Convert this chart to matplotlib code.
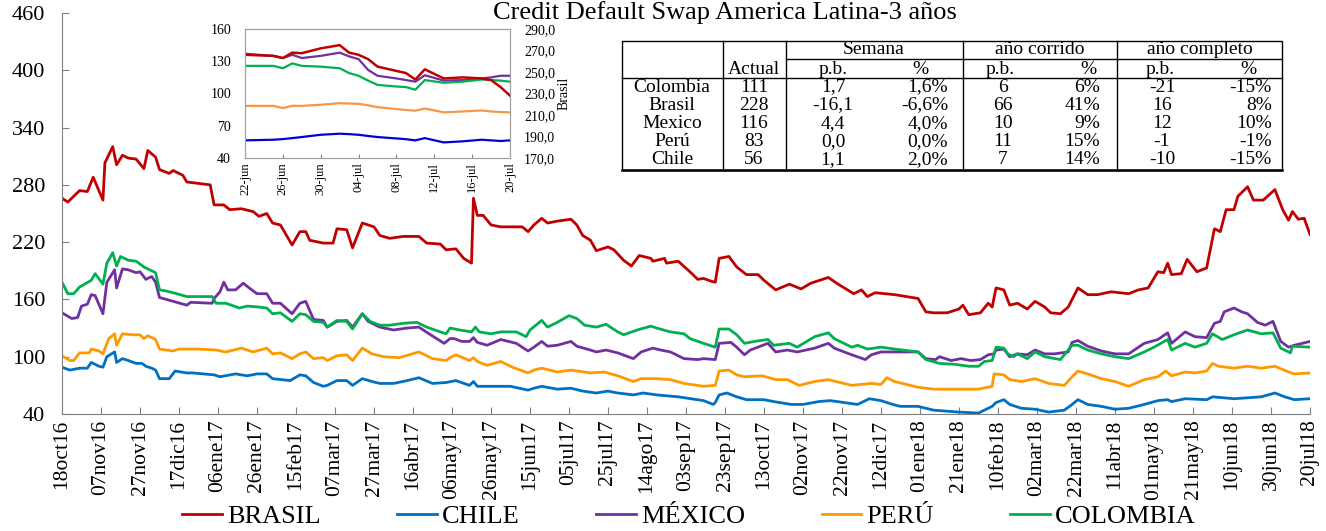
import numpy as np
import pandas as pd
import matplotlib
matplotlib.use("Agg")
import matplotlib.pyplot as plt
from matplotlib.patches import Rectangle
from matplotlib.ticker import FuncFormatter

plt.rcParams['font.family'] = ['Liberation Serif', 'DejaVu Serif']

# ---- main chart data (days counted from 18oct16) ----
start = pd.Timestamp('2016-10-18')
end = pd.Timestamp('2018-07-20')

brasil_day = [0, 3, 9, 13, 16, 21, 22, 26, 28, 31, 34, 38, 42, 44, 48, 50, 55, 57, 62, 64, 76, 78, 83, 86, 92, 98,
              101, 105, 108, 112, 118, 122, 125, 127, 134, 139, 141, 146, 149, 154, 160, 163, 168, 175, 183, 187,
              194, 197, 202, 206, 210, 211, 213, 216, 220, 225, 236, 239, 242, 246, 249, 254, 261, 264, 267, 271,
              274, 280, 283, 288, 292, 296, 302, 303, 309, 310, 316, 322, 326, 329, 333, 335, 337, 342, 346, 351,
              357, 360, 366, 373, 379, 384, 393, 398, 406, 410, 413, 417, 422, 427, 439, 443, 447, 454, 460, 462,
              465, 471, 475, 477, 479, 483, 486, 490, 495, 499, 504, 507, 512, 516, 521, 526, 531, 538, 547, 552,
              557, 562, 565, 567, 569, 574, 577, 582, 587, 591, 594, 597, 601, 603, 608, 611, 616, 622, 626, 629,
              631, 634, 637, 640]
brasil_val = [266, 262, 274, 273, 288, 264, 303, 320, 301, 311, 308, 307, 297, 316, 309, 296, 292, 295, 290, 283,
              280, 259, 259, 254, 255, 252, 247, 250, 240, 238, 217, 231, 231, 222, 219, 219, 234, 233, 214, 240,
              236, 227, 224, 226, 226, 219, 218, 212, 213, 203, 198, 266, 248, 248, 238, 236, 236, 231, 238, 245,
              240, 242, 244, 238, 227, 222, 211, 215, 212, 201, 195, 206, 203, 200, 203, 198, 200, 189, 181, 182,
              179, 178, 203, 205, 194, 186, 186, 180, 170, 176, 171, 177, 183, 176, 166, 170, 163, 167, 166, 165,
              161, 147, 146, 146, 150, 154, 144, 146, 156, 152, 172, 170, 154, 156, 150, 158, 152, 146, 145, 152,
              172, 165, 165, 168, 166, 170, 172, 189, 188, 198, 186, 187, 202, 189, 193, 234, 231, 254, 254, 268,
              278, 264, 264, 275, 254, 243, 252, 244, 245, 228]

chile_day = [0, 4, 9, 13, 15, 19, 21, 23, 27, 28, 31, 34, 38, 41, 43, 46, 48, 50, 55, 58, 64, 67, 78, 81, 89, 95,
             100, 105, 108, 117, 122, 125, 129, 134, 136, 141, 146, 149, 154, 159, 163, 170, 177, 183, 190, 197,
             202, 209, 211, 213, 220, 230, 239, 242, 246, 254, 261, 267, 274, 280, 285, 293, 298, 305, 316, 329,
             334, 335, 337, 341, 346, 351, 360, 365, 374, 380, 388, 394, 401, 408, 414, 420, 426, 430, 439, 447,
             460, 470, 475, 477, 479, 483, 486, 492, 499, 506, 514, 518, 521, 526, 533, 540, 547, 555, 562, 567,
             569, 576, 587, 590, 601, 608, 615, 622, 627, 632, 640]
chile_val = [89, 86, 88, 88, 94, 90, 89, 100, 105, 94, 98, 96, 93, 93, 90, 88, 86, 77, 77, 85, 83, 83, 81, 79, 82,
             80, 82, 82, 77, 75, 81, 80, 73, 69, 70, 75, 75, 70, 77, 74, 72, 72, 75, 78, 72, 73, 75, 70, 74, 69,
             69, 69, 65, 67, 69, 66, 67, 64, 62, 64, 62, 60, 62, 60, 58, 54, 50, 52, 60, 62, 58, 55, 55, 53, 50,
             50, 53, 54, 52, 50, 56, 54, 50, 48, 48, 44, 42, 41, 46, 48, 52, 55, 50, 46, 45, 42, 44, 50, 55, 50,
             48, 45, 46, 50, 54, 55, 53, 56, 55, 58, 56, 57, 58, 62, 58, 55, 56]

mexico_day = [0, 5, 8, 10, 13, 15, 17, 21, 23, 27, 28, 31, 34, 38, 40, 43, 46, 48, 50, 57, 64, 66, 77, 78, 81, 83,
              85, 89, 93, 96, 100, 105, 108, 112, 118, 122, 125, 129, 134, 136, 141, 146, 149, 154, 157, 163, 170,
              177, 183, 189, 196, 199, 201, 205, 209, 211, 213, 218, 225, 233, 239, 242, 246, 249, 254, 261, 264,
              271, 274, 279, 285, 293, 297, 303, 307, 312, 319, 326, 329, 335, 337, 343, 346, 350, 353, 362, 366,
              372, 377, 386, 393, 396, 405, 412, 415, 420, 439, 443, 448, 450, 456, 461, 466, 471, 475, 478, 479,
              483, 486, 490, 495, 499, 504, 509, 516, 518, 521, 526, 533, 540, 547, 555, 562, 567, 569, 576, 581,
              587, 591, 594, 596, 601, 605, 608, 613, 617, 621, 625, 629, 632, 640]
mexico_val = [146, 140, 141, 153, 155, 165, 164, 145, 178, 191, 172, 192, 191, 188, 189, 181, 184, 178, 162, 158,
              154, 157, 156, 161, 168, 178, 170, 170, 177, 172, 166, 166, 156, 156, 145, 156, 158, 139, 138, 131,
              137, 138, 131, 145, 137, 131, 128, 130, 131, 123, 114, 119, 119, 116, 116, 120, 115, 112, 118, 114,
              106, 110, 116, 111, 112, 116, 111, 107, 105, 107, 104, 98, 105, 109, 107, 105, 98, 97, 98, 97, 114,
              115, 110, 102, 107, 114, 105, 107, 105, 109, 114, 109, 102, 97, 102, 105, 105, 98, 97, 100, 96, 98,
              96, 97, 102, 103, 107, 108, 100, 103, 102, 107, 103, 103, 105, 115, 117, 111, 106, 103, 103, 114,
              118, 125, 114, 126, 121, 120, 135, 137, 147, 151, 147, 145, 136, 133, 137, 116, 110, 112, 116]

peru_day = [0, 4, 6, 9, 14, 15, 19, 21, 24, 27, 28, 31, 36, 40, 42, 44, 48, 50, 57, 60, 70, 79, 84, 92, 98, 105,
            108, 112, 118, 122, 125, 129, 134, 136, 141, 146, 149, 154, 159, 165, 173, 183, 190, 197, 199, 202,
            209, 211, 213, 218, 225, 231, 239, 242, 246, 254, 261, 271, 278, 285, 293, 297, 305, 312, 319, 329,
            335, 337, 342, 346, 350, 359, 366, 372, 378, 386, 393, 405, 415, 420, 423, 427, 439, 447, 460, 470,
            477, 478, 483, 486, 492, 499, 506, 514, 518, 521, 526, 533, 540, 547, 555, 562, 566, 569, 576, 581,
            587, 590, 593, 601, 608, 615, 622, 629, 632, 640]
peru_val = [101, 96, 96, 104, 104, 108, 106, 103, 119, 124, 112, 124, 123, 123, 119, 122, 118, 108, 106, 108, 108,
            107, 105, 109, 105, 109, 103, 104, 98, 103, 105, 98, 99, 96, 101, 102, 96, 109, 103, 100, 99, 105, 98,
            96, 99, 102, 96, 99, 95, 91, 95, 89, 83, 86, 88, 84, 86, 83, 84, 80, 74, 77, 77, 76, 72, 69, 70, 85,
            86, 81, 79, 80, 76, 76, 70, 74, 76, 70, 72, 71, 78, 74, 68, 66, 66, 66, 69, 82, 81, 76, 74, 77, 72,
            70, 79, 85, 82, 77, 74, 69, 76, 79, 85, 80, 84, 83, 85, 93, 90, 88, 90, 88, 90, 84, 82, 83]

colombia_day = [0, 3, 6, 9, 15, 17, 21, 23, 26, 28, 30, 34, 38, 42, 45, 48, 50, 53, 57, 64, 77, 79, 84, 91, 95,
                101, 105, 108, 112, 118, 122, 125, 129, 134, 136, 141, 146, 149, 154, 158, 163, 168, 175, 182, 187,
                194, 197, 199, 204, 210, 212, 214, 220, 225, 233, 238, 240, 246, 249, 254, 260, 264, 268, 274, 279,
                285, 288, 295, 302, 305, 312, 319, 322, 329, 335, 337, 342, 346, 350, 355, 362, 365, 373, 377, 386,
                393, 396, 405, 408, 413, 420, 427, 439, 443, 450, 458, 465, 470, 473, 477, 479, 483, 485, 488, 490,
                495, 499, 504, 512, 518, 521, 526, 533, 540, 547, 555, 560, 567, 569, 576, 581, 587, 590, 595, 601,
                608, 615, 621, 625, 630, 631, 640]
colombia_val = [178, 166, 166, 173, 180, 187, 176, 198, 209, 195, 205, 201, 200, 194, 191, 188, 170, 169, 167, 163,
                163, 156, 156, 151, 153, 152, 151, 145, 146, 137, 145, 144, 137, 136, 131, 138, 137, 129, 145, 137,
                133, 133, 135, 136, 131, 126, 124, 130, 128, 126, 131, 126, 124, 126, 126, 121, 128, 138, 131, 136,
                143, 140, 133, 131, 134, 126, 123, 128, 132, 130, 126, 124, 119, 114, 110, 129, 129, 123, 114, 116,
                118, 112, 114, 110, 121, 125, 119, 110, 112, 108, 110, 108, 105, 97, 93, 92, 90, 90, 95, 96, 110,
                109, 103, 100, 103, 98, 105, 100, 97, 112, 112, 107, 103, 100, 98, 105, 110, 118, 107, 114, 110,
                114, 124, 118, 123, 128, 124, 125, 109, 104, 111, 110]

# ---- inset data (days counted from 22-jun-2018) ----
inset_day = [0, 3, 4, 5, 6, 8, 10, 11, 12, 13, 14, 16, 17, 18, 19, 21, 23, 25, 26, 27, 28]
inset_brasil = [266, 265, 263, 268, 267.5, 272, 275, 268, 266, 262, 255, 251, 249, 243, 252.5, 244, 245, 244,
                242.5, 236, 228]
inset_mexico = [137, 135, 133, 136, 133, 135, 138, 134.5, 132, 122, 116.5, 114, 112.5, 111, 117, 112, 112.5, 114,
                115, 116.5, 116.5]
inset_colombia = [125.7, 125.7, 123.5, 128, 125.7, 125, 123.5, 119, 116.5, 112, 108, 106.5, 106, 103.5, 112.5, 110,
                  111, 113, 112.5, 112, 111]
inset_peru = [88.5, 88.5, 86.5, 88.5, 88.5, 89.5, 91, 90.7, 90.4, 89, 87.3, 85.5, 84.7, 84, 86, 82.5, 83.3, 84.2,
              83.3, 82.8, 82.4]
inset_chile = [56.4, 57, 57.6, 58.5, 59.5, 61.6, 62.6, 62.2, 61.6, 60.5, 59.5, 58.2, 57.5, 56.4, 58.5, 54.5, 55.5,
               57, 56.4, 55.8, 56.4]
inset_labels = ['22-jun', '26-jun', '30-jun', '04-jul', '08-jul', '12-jul', '16-jul', '20-jul']

# ---- table ----
tabla_pais = ['Colombia', 'Brasil', 'Mexico', 'Perú', 'Chile']
tabla_actual = ['111', '228', '116', '83', '56']
sem_pb = ['1,7', '-16,1', '4,4', '0,0', '1,1']
sem_pct = ['1,6%', '-6,6%', '4,0%', '0,0%', '2,0%']
corr_pb = ['6', '66', '10', '11', '7']
corr_pct = ['6%', '41%', '9%', '15%', '14%']
comp_pb = ['-21', '16', '12', '-1', '-10']
comp_pct = ['-15%', '8%', '10%', '-1%', '-15%']

meses = ['ene', 'feb', 'mar', 'abr', 'may', 'jun', 'jul', 'ago', 'sep', 'oct', 'nov', 'dic']

colors = {'BRASIL': '#C00000', 'CHILE': '#0070C0', 'MÉXICO': '#7030A0', 'PERÚ': '#FF9900',
          'COLOMBIA': '#00B050'}


def fechas(days, base):
    return base + pd.to_timedelta(days, unit='D')


W, H = 1326, 531
fig = plt.figure(figsize=(W / 100, H / 100), dpi=100)

# main axes
ax = fig.add_axes([62 / W, 1 - 414 / H, (1310 - 62) / W, (414 - 13) / H])
series = [('BRASIL', brasil_day, brasil_val), ('CHILE', chile_day, chile_val),
          ('MÉXICO', mexico_day, mexico_val), ('PERÚ', peru_day, peru_val),
          ('COLOMBIA', colombia_day, colombia_val)]
handles = []
for name, d, v in series:
    h, = ax.plot(fechas(d, start), v, color=colors[name], lw=2.0, label=name)
    handles.append(h)

ax.set_xlim(start, end)
ax.set_ylim(40, 460)
ax.set_yticks(np.arange(40, 461, 60))
ticks = pd.date_range(start, end, freq='20D')
ax.set_xticks(ticks)
ax.set_xticklabels([f"{t.day:02d}{meses[t.month - 1]}{t.year % 100:02d}" for t in ticks], rotation=90)
ax.tick_params(axis='x', direction='in', length=5, pad=4, labelsize=15.5, color='#808080')
ax.tick_params(axis='y', direction='in', length=5, pad=12, labelsize=16, color='#808080')
for s in ['top', 'right']:
    ax.spines[s].set_visible(False)
for s in ['left', 'bottom']:
    ax.spines[s].set_color('#808080')

fig.text(725 / W, 1 - 1 / H, 'Credit Default Swap America Latina-3 años', ha='center', va='top',
         fontsize=19)

# inset
ins = fig.add_axes([245 / W, 1 - 158 / H, 265 / W, 129 / H])
ins2 = ins.twinx()
ins.plot(inset_day, inset_mexico, color='#7030A0', lw=1.6)
ins.plot(inset_day, inset_colombia, color='#00B050', lw=1.6)
ins.plot(inset_day, inset_peru, color='#F79646', lw=1.6)
ins.plot(inset_day, inset_chile, color='#0000DD', lw=1.6)
ins2.plot(inset_day, inset_brasil, color='#C00000', lw=1.8)
ins.set_xlim(0, 28)
ins.set_ylim(40, 160)
ins.set_yticks([40, 70, 100, 130, 160])
ins2.set_ylim(170, 290)
ins2.set_yticks(np.arange(170, 291, 20))
ins2.yaxis.set_major_formatter(FuncFormatter(lambda v, p: f"{v:.1f}".replace('.', ',')))
ins.set_xticks(np.arange(0, 29, 4))
ins.set_xticklabels(inset_labels, rotation=90)
ins.tick_params(axis='x', direction='in', length=3, pad=3, labelsize=9, color='#808080')
ins.tick_params(axis='y', direction='in', length=0, pad=10, labelsize=10)
ins2.tick_params(axis='y', direction='in', length=0, pad=10, labelsize=10)
ins2.set_ylabel('Brasil', fontsize=10, labelpad=2)
for a in (ins, ins2):
    for s in a.spines.values():
        s.set_color('#A0A0A0')

# table drawn in figure pixel coordinates
tab = fig.add_axes([0, 0, 1, 1], zorder=5)
tab.set_xlim(0, W)
tab.set_ylim(H, 0)
tab.axis('off')
tab.add_patch(Rectangle((622, 41), 660, 129, facecolor='white', edgecolor='black', lw=1))
tab.plot([622, 1282], [170, 170], color='black', lw=1.8)
tab.plot([622, 1282], [78, 78], color='black', lw=1)
tab.plot([786, 1282], [59, 59], color='black', lw=1)
for xv in [723, 786, 963, 1117]:
    tab.plot([xv, xv], [41, 170], color='black', lw=1)
fs = 14
tab.text(874, 50, 'Semana', ha='center', va='center', fontsize=fs)
tab.text(1040, 50, 'año corrido', ha='center', va='center', fontsize=fs)
tab.text(1200, 50, 'año completo', ha='center', va='center', fontsize=fs)
for xv, lab in zip([754, 833, 920, 1000, 1088, 1160, 1248],
                   ['Actual', 'p.b.', '%', 'p.b.', '%', 'p.b.', '%']):
    tab.text(xv, 69, lab, ha='center', va='center', fontsize=fs)
row_y = [87, 105, 124, 142, 160]
for i, y in enumerate(row_y):
    tab.text(672, y, tabla_pais[i], ha='center', va='center', fontsize=fs)
    tab.text(754, y, tabla_actual[i], ha='center', va='center', fontsize=fs)
    tab.text(833, y, sem_pb[i], ha='center', va='center', fontsize=fs)
    tab.text(948, y, sem_pct[i], ha='right', va='center', fontsize=fs)
    tab.text(1003, y, corr_pb[i], ha='center', va='center', fontsize=fs)
    tab.text(1100, y, corr_pct[i], ha='right', va='center', fontsize=fs)
    tab.text(1162, y, comp_pb[i], ha='center', va='center', fontsize=fs)
    tab.text(1272, y, comp_pct[i], ha='right', va='center', fontsize=fs)

fig.legend(handles=handles, loc='center', bbox_to_anchor=(689 / W, 1 - 516 / H), ncol=5, frameon=False,
           fontsize=19, handlelength=1.5, handletextpad=0.2, columnspacing=2.9)

fig.savefig('out.png', dpi=100)
